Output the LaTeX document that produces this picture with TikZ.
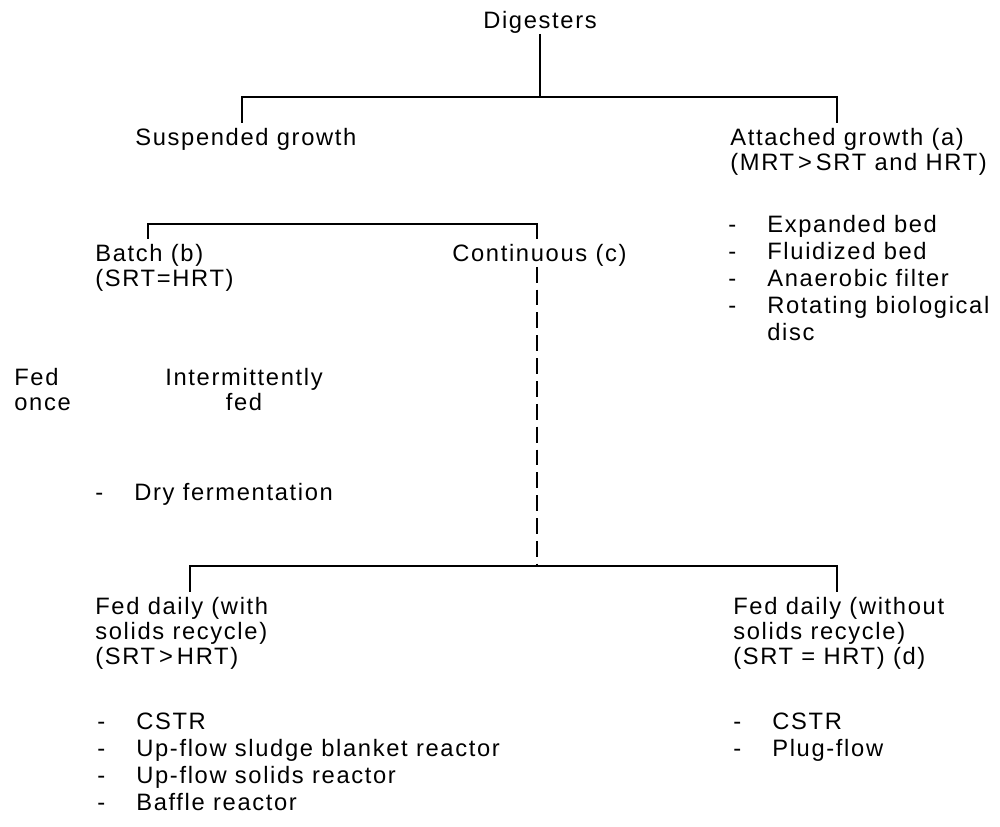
\documentclass[tikz,border=0pt]{standalone}
\usepackage{fontspec}
\setmainfont[LetterSpace=7]{Liberation Sans}
\usetikzlibrary{positioning}

\tikzset{
  txt/.style={inner sep=0pt, anchor=north west, align=left, font=\fontsize{13.5}{14.2}\selectfont},
  lst/.style={txt, font=\fontsize{13.5}{15.3}\selectfont},
  branch/.style={line width=1.1pt, shorten <=3pt, shorten >=3pt},
  dashbranch/.style={line width=1.1pt, dash pattern=on 9pt off 4pt}
}
\newcommand{\itm}[1]{\makebox[0.78cm][l]{-}#1}

\begin{document}
\begin{tikzpicture}[x=0.02cm, y=-0.02cm]
    \useasboundingbox (0,0) rectangle (1000,826);

    % Texts
    \node[txt, anchor=north] (dig) at (540,11) {Digesters};
    \node[txt] (susp) at (135,128) {Suspended growth};
    \node[txt] (att) at (730,128) {Attached growth (a)\\(MRT\,>\,SRT and HRT)};
    \node[lst] (attlst) at (728,215) {\itm{Expanded bed}\\\itm{Fluidized bed}\\\itm{Anaerobic filter}\\\itm{Rotating biological}\\\hspace*{0.78cm}disc};
    \node[txt] (batch) at (95,244) {Batch (b)\\(SRT=HRT)};
    \node[txt] (cont) at (452,244) {Continuous (c)};
    \node[txt] (once) at (14,368) {Fed\\once};
    \node[txt, align=center] (inter) at (165,368) {Intermittently\\fed};
    \node[lst] (dry) at (95,483) {\itm{Dry fermentation}};
    \node[txt] (recyc) at (95,597) {Fed daily (with\\solids recycle)\\(SRT\,>\,HRT)};
    \node[txt] (norecyc) at (733,597) {Fed daily (without\\solids recycle)\\(SRT = HRT) (d)};
    \node[lst] (recyclst) at (97,713) {\itm{CSTR}\\\itm{Up-flow sludge blanket reactor}\\\itm{Up-flow solids reactor}\\\itm{Baffle reactor}};
    \node[lst] (norecyclst) at (733,713) {\itm{CSTR}\\\itm{Plug-flow}};

    % Branch points
    \coordinate (top l) at (242,97);
    \coordinate (top r) at (837,97);
    \coordinate (mid l) at (148,224);
    \coordinate (mid r) at (537,224);
    \coordinate (low l) at (190,566);
    \coordinate (low m) at (537,566);
    \coordinate (low r) at (837,566);

    % Connectors
    \draw[line width=1.1pt] (dig.south) -- (dig.south |- top l);
    \draw[branch] (susp.north -| top l) -- (top l) -- (top r) -- (att.north -| top r);
    \draw[branch] (batch.north -| mid l) -- (mid l) -- (mid r) -- (cont.north -| mid r);
    \draw[dashbranch] (cont.south -| low m) -- (low m);
    \draw[branch] (recyc.north -| low l) -- (low l) -- (low r) -- (norecyc.north -| low r);
\end{tikzpicture}
\end{document}
